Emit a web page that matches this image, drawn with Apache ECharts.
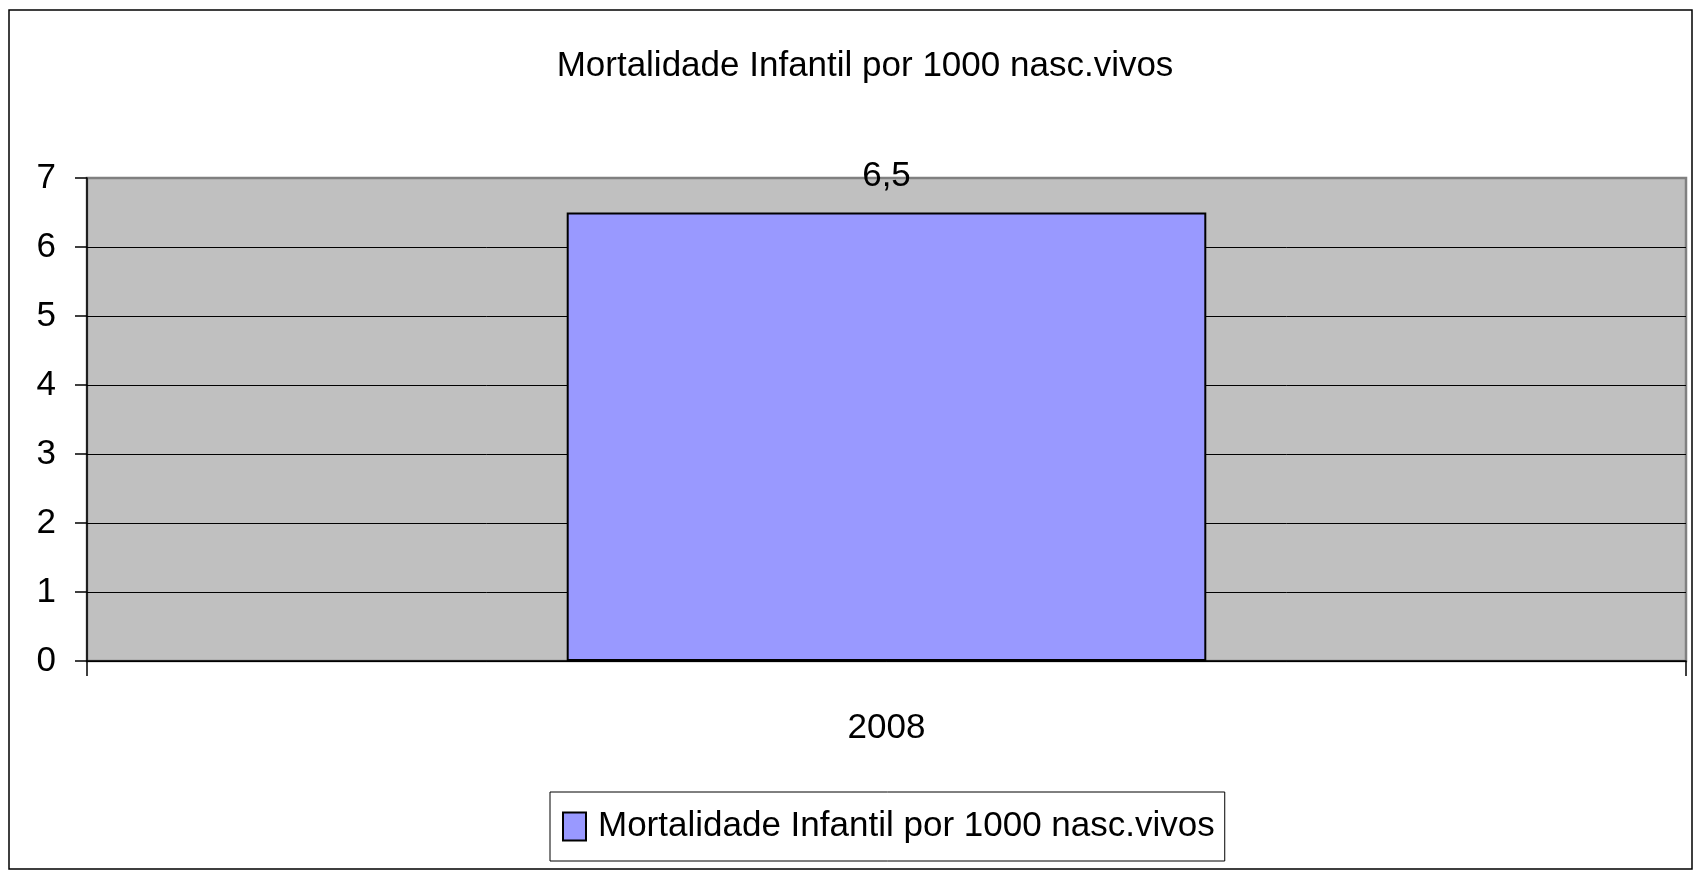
<!DOCTYPE html>
<html>
<head>
<meta charset="utf-8">
<script src="https://cdn.jsdelivr.net/npm/echarts@6/dist/echarts.min.js"></script>
<style>
  html, body { margin: 0; padding: 0; background: #fff; }
  #chart { width: 1694px; height: 871px; }
</style>
</head>
<body>
<div id="chart"></div>
<script>
const titulo = 'Mortalidade Infantil por 1000 nasc.vivos'
const anos = ['2008']
const mortalidade = [6.5]

const fonte = "'Liberation Sans', Arial, sans-serif"
const tamanho = 35

let chartDom = document.getElementById('chart')
let myChart = echarts.init(chartDom)

let options = {
  backgroundColor: '#fff',
  animation: false,
  textStyle: { fontFamily: fonte },
  // moldura externa do gráfico
  graphic: [
    {
      type: 'rect',
      z: -1,
      shape: { x: 9, y: 10, width: 1683, height: 859 },
      style: { fill: 'transparent', stroke: '#000', lineWidth: 1.5 }
    }
  ],
  title: {
    text: titulo,
    left: 860,
    textAlign: 'center',
    top: 44,
    textStyle: { fontFamily: fonte, fontSize: tamanho, fontWeight: 'normal', color: '#000' }
  },
  legend: {
    left: 550,
    top: 792,
    padding: [17, 10, 17, 12],
    borderColor: '#000',
    borderWidth: 1,
    itemWidth: 23,
    itemHeight: 28,
    icon: 'rect',
    textStyle: { fontFamily: fonte, fontSize: tamanho, color: '#000', padding: [0, 0, 0, 7] },
    data: [titulo]
  },
  grid: {
    left: 87,
    top: 178,
    right: 8,
    bottom: 210,
    show: true,
    backgroundColor: '#C0C0C0',
    borderColor: '#808080',
    borderWidth: 2.5
  },
  xAxis: {
    type: 'category',
    data: anos,
    axisLine: { lineStyle: { color: '#000', width: 1.5 } },
    axisTick: { show: true, length: 15, lineStyle: { color: '#000', width: 1.5 } },
    axisLabel: { fontFamily: fonte, fontSize: tamanho, color: '#000', margin: 50 }
  },
  yAxis: {
    type: 'value',
    min: 0,
    max: 7,
    interval: 1,
    axisLine: { show: true, lineStyle: { color: '#000', width: 1.5 } },
    axisTick: { show: true, length: 12, lineStyle: { color: '#000', width: 1.5 } },
    axisLabel: { fontFamily: fonte, fontSize: tamanho, color: '#000', margin: 31 },
    splitLine: { showMaxLine: false, lineStyle: { color: '#000', width: 1 } }
  },
  series: [
    {
      name: titulo,
      type: 'bar',
      barWidth: '40%',
      data: mortalidade,
      itemStyle: { color: '#9999FF', borderColor: '#000', borderWidth: 2 },
      label: {
        show: true,
        position: 'top',
        distance: 19,
        fontFamily: fonte,
        fontSize: tamanho,
        color: '#000',
        formatter: p => String(p.value).replace('.', ',')
      }
    }
  ]
}

myChart.setOption(options)
</script>
</body>
</html>
